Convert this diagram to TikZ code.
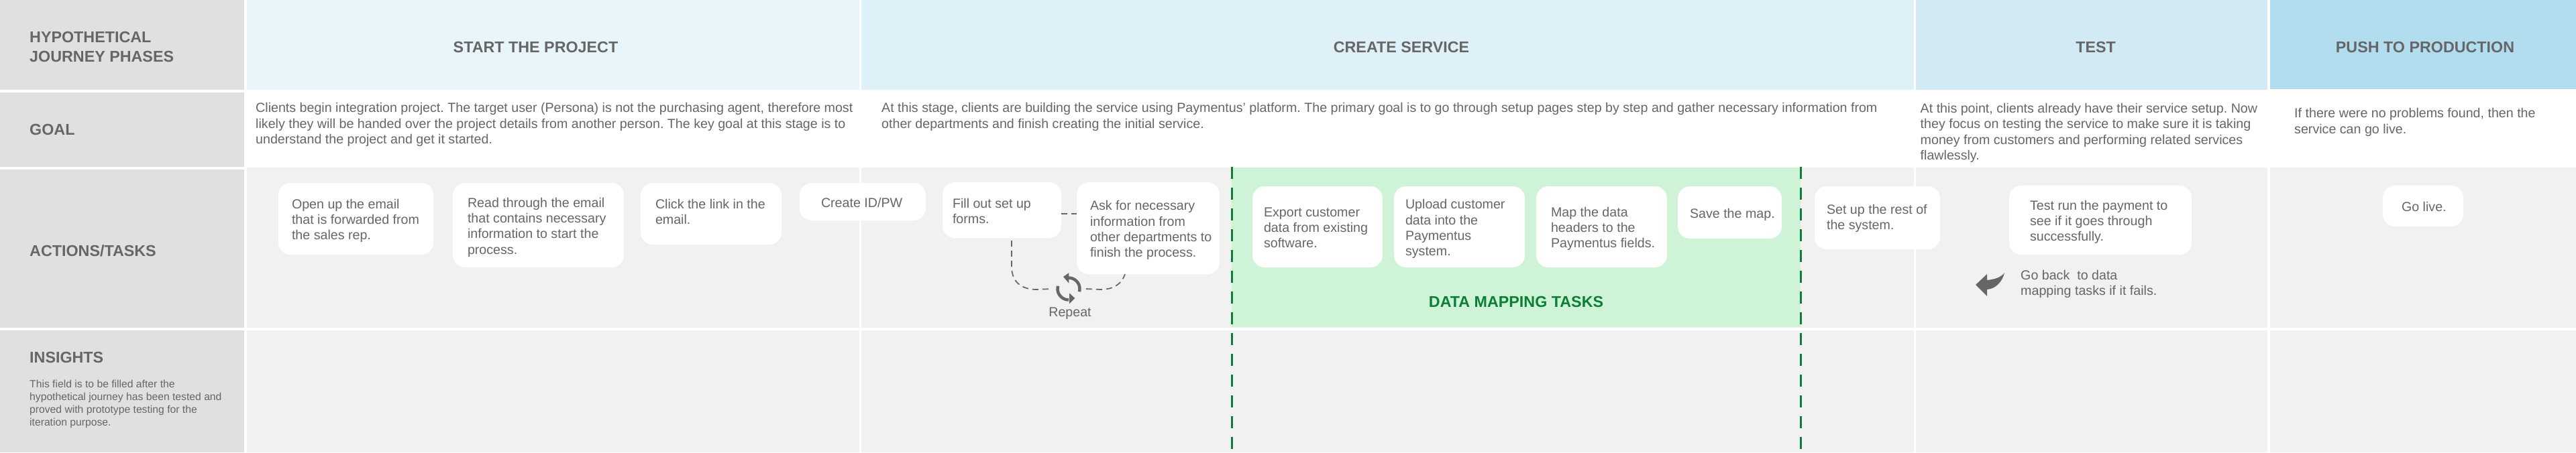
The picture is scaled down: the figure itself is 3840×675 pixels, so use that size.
\documentclass[tikz,border=0pt]{standalone}
\usepackage{fontspec}
\setmainfont{Liberation Sans}
\usetikzlibrary{calc}
\definecolor{lab}{HTML}{E0E0E0}
\definecolor{hA}{HTML}{E8F5FB}
\definecolor{hB}{HTML}{DEF1F8}
\definecolor{hC}{HTML}{D2EAF4}
\definecolor{hD}{HTML}{B2DDEF}
\definecolor{row}{HTML}{F1F1F1}
\definecolor{mint}{HTML}{CEF3D7}
\definecolor{ink}{HTML}{666666}
\definecolor{gr}{HTML}{0B7F36}
\frenchspacing
\tikzset{
  x=1pt,y=-1pt,
  bodytext/.style={font=\frenchspacing\fontsize{19.65}{23.3}\selectfont,text=ink,inner sep=0pt,align=left},
  headtext/.style={font=\fontsize{23.3}{29}\selectfont\bfseries,text=ink,inner sep=0pt,align=left},
  smalltext/.style={font=\fontsize{15.7}{19}\selectfont,text=ink,inner sep=0pt,align=left},
  cardbox/.style={fill=white,rounded corners=18pt,inner sep=0pt,font=\fontsize{19.65}{23.3}\selectfont,text=ink},
  loopline/.style={draw=ink,line width=1.7pt,dash pattern=on 9pt off 6pt},
  markline/.style={draw=gr,line width=3pt,dash pattern=on 18pt off 13pt},
}
\newcommand{\cell}[5]{\fill[#5] (#1,#2) rectangle (#3,#4);}
\newcommand{\cardshift}{3.5}
\newcommand{\card}[7]{%
  \pgfmathsetmacro{\cw}{#4-#2}\pgfmathsetmacro{\ch}{#5-#3}%
  \node[cardbox,minimum width=\cw pt,minimum height=\ch pt] (#1) at ({(#2+#4)/2},{(#3+#5)/2})
    {\makebox[\cw pt][l]{\hspace*{#6pt}\raisebox{-\cardshift pt}[\height][\depth]{\begin{tabular}{@{}l@{}}#7\end{tabular}}}};}
\begin{document}
\begin{tikzpicture}
\useasboundingbox (0,0) rectangle (3840,675);
\fill[white] (0,0) rectangle (3840,675);
% left labels
\cell{0}{0}{364}{134}{lab}
\cell{0}{138}{364}{249}{lab}
\cell{0}{253}{364}{489}{lab}
\cell{0}{493}{364}{675}{lab}
% header
\cell{368}{0}{1281}{134}{hA}
\cell{1284}{0}{2853}{134}{hB}
\cell{2856}{0}{3380}{134}{hC}
\cell{3384}{0}{3840}{133}{hD}
% action and insight rows
\foreach \a/\b in {368/1281,1284/2853,2856/3380,3384/3840}{
  \cell{\a}{250}{\b}{489}{row}
  \cell{\a}{493}{\b}{675}{row}
}
\cell{1836}{250}{2684}{488}{mint}
% labels
\node[headtext,anchor=west] (lPhases) at (44,69.5) {HYPOTHETICAL\\JOURNEY PHASES};
\node[headtext,anchor=west] (lGoal) at (44,193) {GOAL};
\node[headtext,anchor=west] (lAct) at (44,374) {ACTIONS/TASKS};
\node[headtext,anchor=west] (lIns) at (44,533) {INSIGHTS};
\node[smalltext,anchor=west] (lInsB) at (44,602.5) {This field is to be filled after the\\hypothetical journey has been tested and\\proved with prototype testing for the\\iteration purpose.};
\node[headtext] (hStart) at (798.5,70) {START THE PROJECT};
\node[headtext] (hCreate) at (2089,70) {CREATE SERVICE};
\node[headtext] (hTest) at (3124,70) {TEST};
\node[headtext] (hPush) at (3615,70) {PUSH TO PRODUCTION};
% goals
\node[bodytext,anchor=west] (g1) at (381,186) {Clients begin integration project. The target user (Persona) is not the purchasing agent, therefore most\\likely they will be handed over the project details from another person. The key goal at this stage is to\\understand the project and get it started.};
\node[bodytext,anchor=west] (g2) at (1314,174.5) {At this stage, clients are building the service using Paymentus’ platform. The primary goal is to go through setup pages step by step and gather necessary information from\\other departments and finish creating the initial service.};
\node[bodytext,anchor=west] (g3) at (2862.5,198.5) {At this point, clients already have their service setup. Now\\they focus on testing the service to make sure it is taking\\money from customers and performing related services\\flawlessly.};
\node[bodytext,anchor=west] (g4) at (3420,182.5) {If there were no problems found, then the\\service can go live.};
% cards
\card{c1}{415}{273}{646}{380}{20}{Open up the email\\that is forwarded from\\the sales rep.}
\card{c2}{675}{273}{930}{399}{22}{Read through the email\\that contains necessary\\information to start the\\process.}
\renewcommand{\cardshift}{-0.5}
\card{c3}{955}{273}{1165}{365}{22}{Click the link in the\\email.}
\renewcommand{\cardshift}{3.5}
\card{c4}{1192}{273}{1380}{329}{32}{Create ID/PW}
\card{c5}{1405}{272}{1582}{355}{15}{Fill out set up\\forms.}
\card{c6}{1605}{272}{1818}{409}{20}{Ask for necessary\\information from\\other departments to\\finish the process.}
\card{c7}{1867}{278}{2061}{399}{17}{Export customer\\data from existing\\software.}
\card{c8}{2078}{278}{2273}{399}{17}{Upload customer\\data into the\\Paymentus\\system.}
\card{c9}{2290}{278}{2485}{399}{22}{Map the data\\headers to the\\Paymentus fields.}
\card{c10}{2501}{278}{2656}{356}{18}{Save the map.}
\renewcommand{\cardshift}{1}
\card{c11}{2705}{278}{2892}{372}{18}{Set up the rest of\\the system.}
\renewcommand{\cardshift}{3.5}
\card{c12}{2995}{277}{3267}{380}{31}{Test run the payment to\\see if it goes through\\successfully.}
\card{c13}{3552}{277}{3672}{338}{28}{Go live.}
% notes
\node[bodytext] (rep) at (1595,468) {Repeat};
\node[bodytext,anchor=west] (back) at (3012,424) {Go back\ \ to data\\mapping tasks if it fails.};
\node[font=\fontsize{23.3}{26}\selectfont\bfseries,text=gr,inner sep=0pt] (dm) at (2260,450) {DATA MAPPING TASKS};
% repeat loop
\coordinate (icon) at (1593,431);
\coordinate (lIn) at ($(icon)+(-25,0)$);
\coordinate (rIn) at ($(icon)+(26,0)$);
\coordinate (c5b) at (1508,359);
\coordinate (c6b) at (1677,409);
\draw[loopline] (c5.east |- 0,319) -- (c6.west |- 0,319);
\draw[loopline] (c5b) -- (1508,398) .. controls (1508,420) and (1522,432) .. (1545,432) -- (lIn);
\draw[loopline] (rIn) -- (1640,432) .. controls (1660,432) and (1672,424) .. (c6b);
% repeat icon
\draw[ink,line width=4.5pt] (1593,414.5) arc (-90:15:16.5);
\fill[ink] (1585,413) -- (1593.3,407.3) -- (1593.3,422.7) -- cycle;
\draw[ink,line width=4.5pt] (1593,447.5) arc (90:195:16.5);
\fill[ink] (1602.3,445) -- (1594,437.3) -- (1594,453.3) -- cycle;
% back arrow
\fill[ink] (2945,425) -- (2962,409) -- (2962,418) .. controls (2973,417) and (2983,414) .. (2988,407) .. controls (2985,420) and (2975,431) .. (2962,432) -- (2962,442) -- cycle;
% dashed markers
\draw[markline] (1836,249) -- (1836,675);
\draw[markline] (2684,249) -- (2684,675);
\end{tikzpicture}
\end{document}
